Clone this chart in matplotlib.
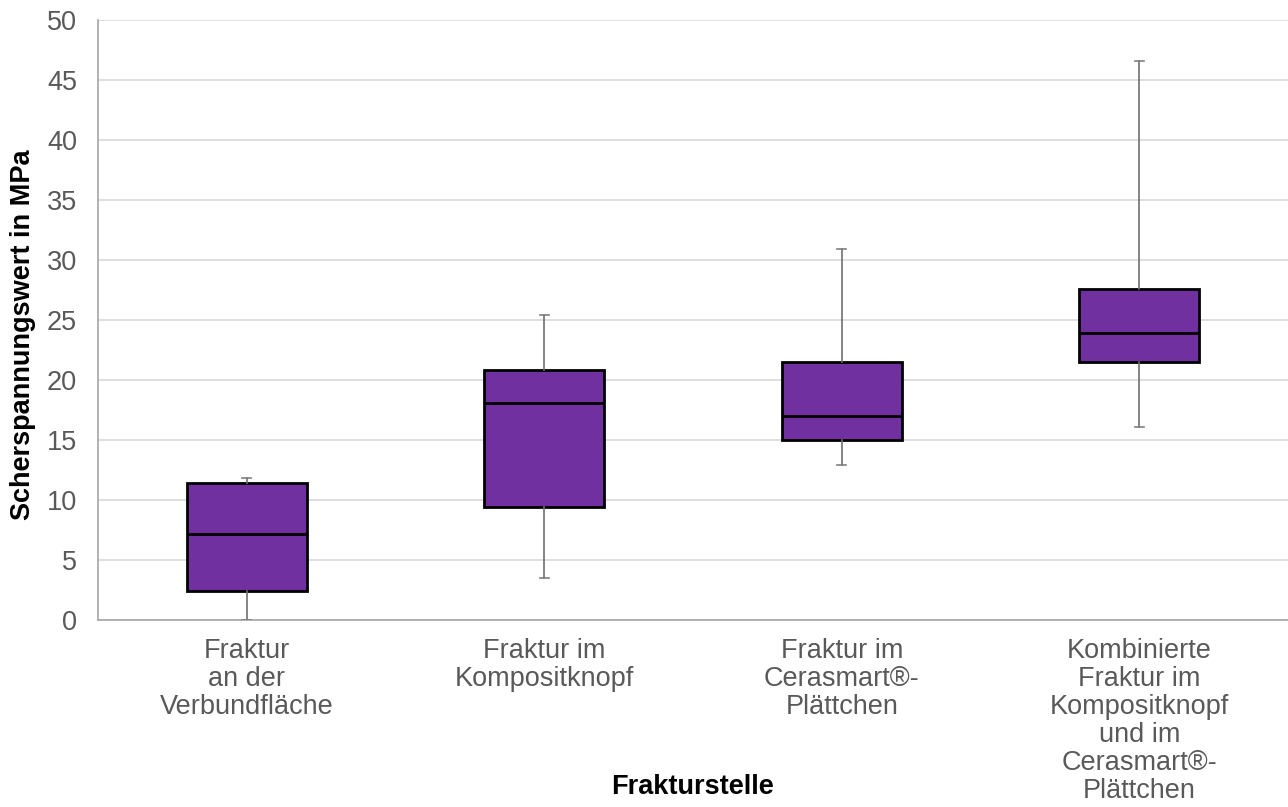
import matplotlib.pyplot as plt

plt.rcParams['font.family'] = ['Liberation Sans', 'DejaVu Sans']

# Shear bond strength by fracture location (MPa)
categories = [
    "Fraktur\nan der\nVerbundfläche",
    "Fraktur im\nKompositknopf",
    "Fraktur im\nCerasmart®-\nPlättchen",
    "Kombinierte\nFraktur im\nKompositknopf\nund im\nCerasmart®-\nPlättchen",
]
whisker_low = [0.0, 3.5, 12.9, 16.1]
q1 = [2.4, 9.4, 15.0, 21.5]
median = [7.2, 18.1, 17.0, 23.9]
q3 = [11.4, 20.8, 21.5, 27.6]
whisker_high = [11.8, 25.4, 30.9, 46.6]

stats = []
for i in range(len(categories)):
    stats.append({
        "whislo": whisker_low[i], "q1": q1[i], "med": median[i],
        "q3": q3[i], "whishi": whisker_high[i], "fliers": [],
    })

fig = plt.figure(figsize=(12.88, 8.07), dpi=100)
ax = fig.add_axes([98 / 1288, 1 - 620 / 807, 1190 / 1288, 600 / 807])

positions = list(range(1, len(categories) + 1))
ax.bxp(stats, positions=positions, widths=0.405, patch_artist=True,
       showfliers=False,
       boxprops=dict(facecolor="#7030A0", edgecolor="black", linewidth=2),
       medianprops=dict(color="black", linewidth=2),
       whiskerprops=dict(color="#6f6f6f", linewidth=1.2),
       capprops=dict(color="#7f7f7f", linewidth=1.2),
       capwidths=0.03, zorder=3)

ax.set_xlim(0.5, len(categories) + 0.5)
ax.set_ylim(0, 50)
ax.set_yticks(range(0, 51, 5))
ax.grid(axis="y", color="#d9d9d9", linewidth=1.2, zorder=0)
ax.set_axisbelow(True)

ax.set_xticks(positions)
ax.set_xticklabels(categories, fontsize=19.5, color="#595959", linespacing=1.1)
ax.tick_params(axis="x", length=0, pad=13)
ax.tick_params(axis="y", length=0, labelsize=19.5, labelcolor="#595959", pad=15)

for side in ("top", "right"):
    ax.spines[side].set_visible(False)
for side in ("left", "bottom"):
    ax.spines[side].set_color("#a6a6a6")
    ax.spines[side].set_linewidth(1.2)

ax.set_ylabel("Scherspannungswert in MPa", fontsize=19.5, fontweight="bold")
ax.yaxis.set_label_coords(-0.052, 0.475)
fig.text((98 + 1288) / 2 / 1288, 1 - 787 / 807, "Frakturstelle",
         fontsize=19.5, fontweight="bold", ha="center", va="center")

fig.savefig("out.png", dpi=100)
